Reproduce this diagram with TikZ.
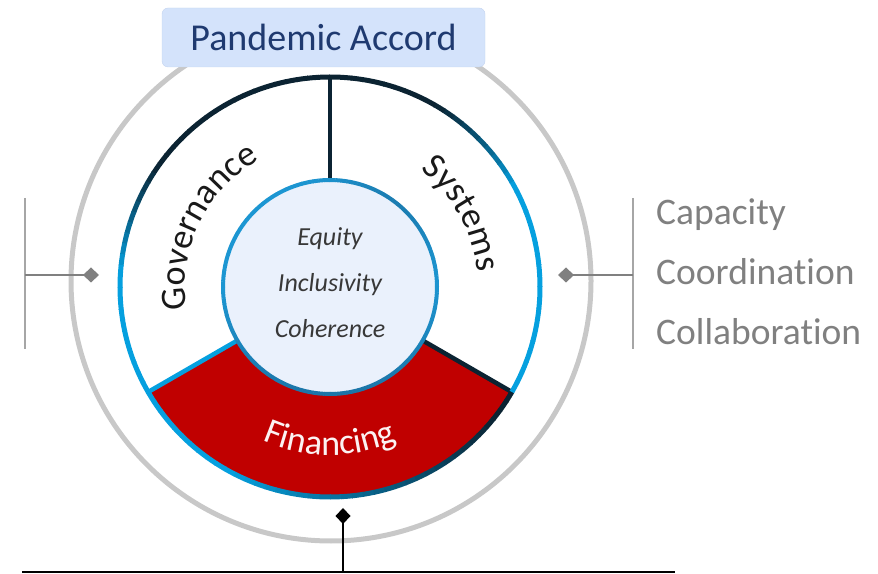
\documentclass[tikz,border=0pt]{standalone}
\usepackage{fontspec}
\setmainfont{Carlito}[Ligatures=NoCommon]
\usepackage{xcolor}
\usetikzlibrary{arrows.meta,decorations.text}
\definecolor{ringnavy}{HTML}{0B2332}
\definecolor{ringblue}{HTML}{05A0DF}
\definecolor{coreblue}{HTML}{1C96D2}
\definecolor{coredark}{HTML}{1A5F8C}
\definecolor{corefill}{HTML}{EAF1FC}
\definecolor{finred}{HTML}{C00000}
\definecolor{halogray}{HTML}{C8C8C8}
\definecolor{notegray}{HTML}{808080}
\definecolor{accordfill}{HTML}{D4E3FB}
\definecolor{accordline}{HTML}{C4D4EF}
\definecolor{accordtext}{HTML}{1F3A70}
\newcommand{\segfont}{\fontsize{36}{36}\selectfont}

\begin{document}
\begin{tikzpicture}[x=1pt,y=1pt,
	note/.style={font=\fontsize{37.5}{37.5}\selectfont, text=notegray, anchor=base west, inner sep=0pt},
	core/.style={font=\fontsize{26}{26}\selectfont\itshape, text=black!78, anchor=base, inner sep=0pt},
	curved/.style={decorate, decoration={text along path, text align=center, text color=#1}}]
		\useasboundingbox (0,0) rectangle (878,573);
		\coordinate (C) at (330,286);
		\coordinate (H) at (331,292);
		% outer halo and title
		\draw[halogray, line width=5] (H) circle[radius=260];
		\node[draw=accordline, fill=accordfill, rounded corners=6, minimum width=323, minimum height=59, text=accordtext, font=\fontsize{38}{38}\selectfont] (accord) at (323.5,535.5) {Pandemic Accord};
		% financing sector
		\fill[finred] ([shift={(210:107)}]C) -- ([shift={(210:210)}]C) arc[start angle=210, end angle=330, radius=210] -- ([shift={(330:107)}]C) arc[start angle=330, end angle=210, radius=107] -- cycle;
		\draw[ringnavy, line width=4.5] ([shift={(90:107)}]C) -- ([shift={(90:210)}]C);
		\draw[ringblue, line width=4.5] ([shift={(210:107)}]C) -- ([shift={(210:210)}]C);
		\draw[ringnavy, line width=4.5] ([shift={(330:107)}]C) -- ([shift={(330:210)}]C);
		\foreach \a in {-150,-147,...,207}{
			\pgfmathsetmacro\dk{(\a<-30) ? 1-(-40-\a)/80 : ((\a>90) ? (sin(\a)-0.1)/0.5 : (sin(\a)-0.45)/0.4)}
			\pgfmathsetmacro\dk{100*max(0,min(1,\dk))}
			\draw[ringnavy!\dk!ringblue, line width=5] ([shift={(\a:210)}]C) arc[start angle=\a, end angle=\a+3.2, radius=210];
		}
		% core circle
		\fill[corefill] (C) circle[radius=107];
		\foreach \a in {0,3,...,357}{
			\pgfmathsetmacro\dk{100*min(1,0.6*max(0,-sin(\a)) + 0.45*max(0,cos(\a-50))^6)}
			\draw[coredark!\dk!coreblue, line width=4] ([shift={(\a:107)}]C) arc[start angle=\a, end angle=\a+3.2, radius=107];
		}
		\node[core] (equity) at (330,327) {Equity};
		\node[core] (incl) at (330,281) {Inclusivity};
		\node[core] (coher) at (330,235) {Coherence};
		% sector labels
		\path[curved=black!90, decoration={text={|\segfont|Governance}}] ([shift={(229:145)}]C) arc[start angle=229, end angle=79, radius=145];
		\path[curved=black!90, decoration={text={|\segfont|Systems}}] ([shift={(99:148)}]C) arc[start angle=99, end angle=-41, radius=148];
		\path[curved=white!95!finred, decoration={text={|\segfont|Financing}}] ([shift={(200:168)}]C) arc[start angle=200, end angle=340, radius=168];
		% side brackets
		\coordinate (ltop) at (25,375);
		\coordinate (lbot) at (25,224);
		\coordinate (lmid) at (25,298);
		\coordinate (ltip) at (99,298);
		\coordinate (rtop) at (633,375);
		\coordinate (rbot) at (633,224);
		\coordinate (rmid) at (633,298);
		\coordinate (rtip) at (558,298);
		\draw[black!35, line width=1.5] (ltop) -- (lbot);
		\draw[black!35, line width=1.5] (rtop) -- (rbot);
		\draw[notegray, line width=2, -{Diamond[length=16pt,width=15pt]}] (lmid) -- (ltip);
		\draw[notegray, line width=2, -{Diamond[length=16pt,width=15pt]}] (rmid) -- (rtip);
		\node[note] (capacity) at (656,348.5) {Capacity};
		\node[note] (coord) at (656,288) {Coordination};
		\node[note] (collab) at (656,228) {Collaboration};
		% bottom stem
		\coordinate (baseL) at (22,1);
		\coordinate (baseR) at (675,1);
		\coordinate (stem) at (343,1);
		\coordinate (stemtip) at (343,65);
		\draw[line width=2] (baseL) -- (baseR);
		\draw[line width=2, -{Diamond[length=16pt,width=15pt]}] (stem) -- (stemtip);
	\end{tikzpicture}
\end{document}
